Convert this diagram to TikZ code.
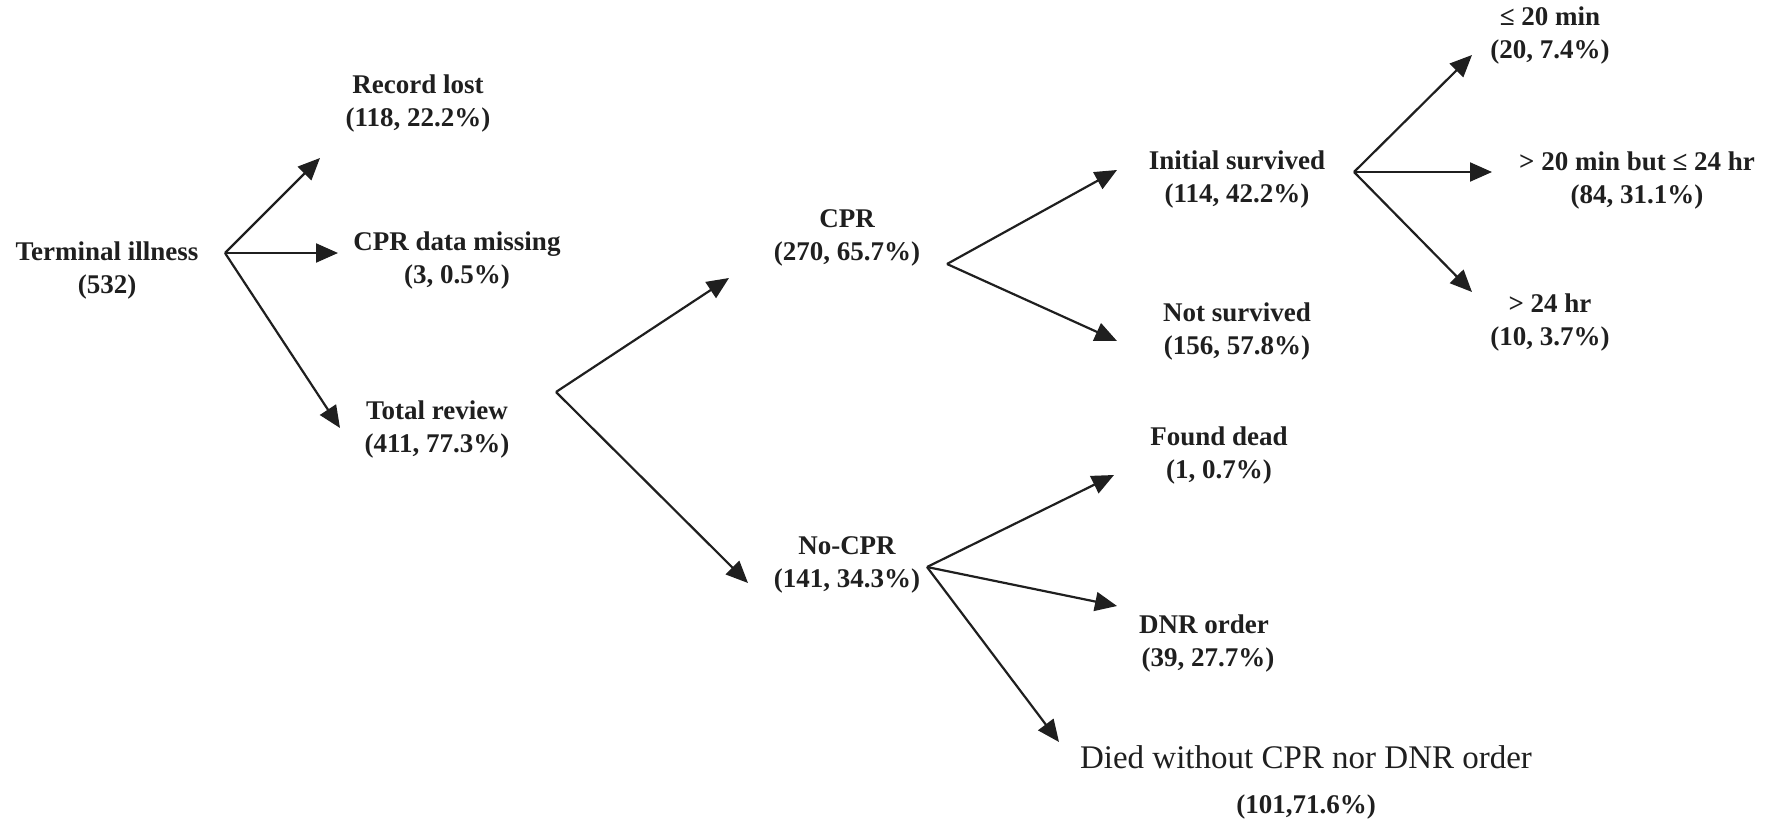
\documentclass[tikz,border=0pt]{standalone}
\usepackage{fontspec}
\setmainfont{Liberation Serif}
\usetikzlibrary{arrows.meta}

\begin{document}
\begin{tikzpicture}[
  x=0.5pt, y=-0.5pt,
  every node/.style={font=\fontsize{13.5}{16.5}\selectfont\bfseries, align=center, inner sep=2pt, text=black!88},
  branch/.style={draw=black!88, line width=1.1pt, -{Triangle[length=11pt, width=9.5pt]}},
  plain/.style={font=\fontsize{16.5}{19}\selectfont}
]
\useasboundingbox (0,0) rectangle (1772,824);

\node (ti) at (107,271) {Terminal illness\\(532)};
\node (lost) at (418,104) {Record lost\\(118, 22.2\%)};
\node (miss) at (457,261) {CPR data missing\\(3, 0.5\%)};
\node (rev) at (437,430) {Total review\\(411, 77.3\%)};

\node (cpr) at (847,238) {CPR\\(270, 65.7\%)};
\node (nocpr) at (847,565) {No-CPR\\(141, 34.3\%)};

\node (init) at (1237,180) {Initial survived\\(114, 42.2\%)};
\node (nots) at (1237,332) {Not survived\\(156, 57.8\%)};
\node (found) at (1219,456) {Found dead\\(1, 0.7\%)};
\node (dnr) at (1204,643) {DNR order\\\hspace{0.3em}(39, 27.7\%)};
\node[plain] (died) at (1306,757) {Died without CPR nor DNR order};
\node (diedn) at (1306,807) {(101,71.6\%)};

\node (le20) at (1550,36) {≤ 20 min\\(20, 7.4\%)};
\node (mid) at (1637,181) {> 20 min but ≤ 24 hr\\(84, 31.1\%)};
\node (gt24) at (1550,323) {> 24 hr\\(10, 3.7\%)};

\coordinate (tiout) at (225,253);
\coordinate (lostin) at (320,158);
\coordinate (missin) at (338,253);
\coordinate (revin) at (340,428);
\coordinate (revout) at (556,392);
\coordinate (cprin) at (729,278);
\coordinate (nocprin) at (748,583);
\coordinate (cprout) at (947,264);
\coordinate (initin) at (1117,170);
\coordinate (notsin) at (1117,341);
\coordinate (initout) at (1354,172);
\coordinate (le20in) at (1472,55);
\coordinate (midin) at (1492,172);
\coordinate (gt24in) at (1472,292);
\coordinate (nocprout) at (927,567);
\coordinate (foundin) at (1114,475);
\coordinate (dnrin) at (1117,606);
\coordinate (diedin) at (1059,742);

\draw[branch] (tiout) -- (lostin);
\draw[branch] (tiout) -- (missin);
\draw[branch] (tiout) -- (revin);
\draw[branch] (revout) -- (cprin);
\draw[branch] (revout) -- (nocprin);
\draw[branch] (cprout) -- (initin);
\draw[branch] (cprout) -- (notsin);
\draw[branch] (initout) -- (le20in);
\draw[branch] (initout) -- (midin);
\draw[branch] (initout) -- (gt24in);
\draw[branch] (nocprout) -- (foundin);
\draw[branch] (nocprout) -- (dnrin);
\draw[branch] (nocprout) -- (diedin);
\end{tikzpicture}
\end{document}
